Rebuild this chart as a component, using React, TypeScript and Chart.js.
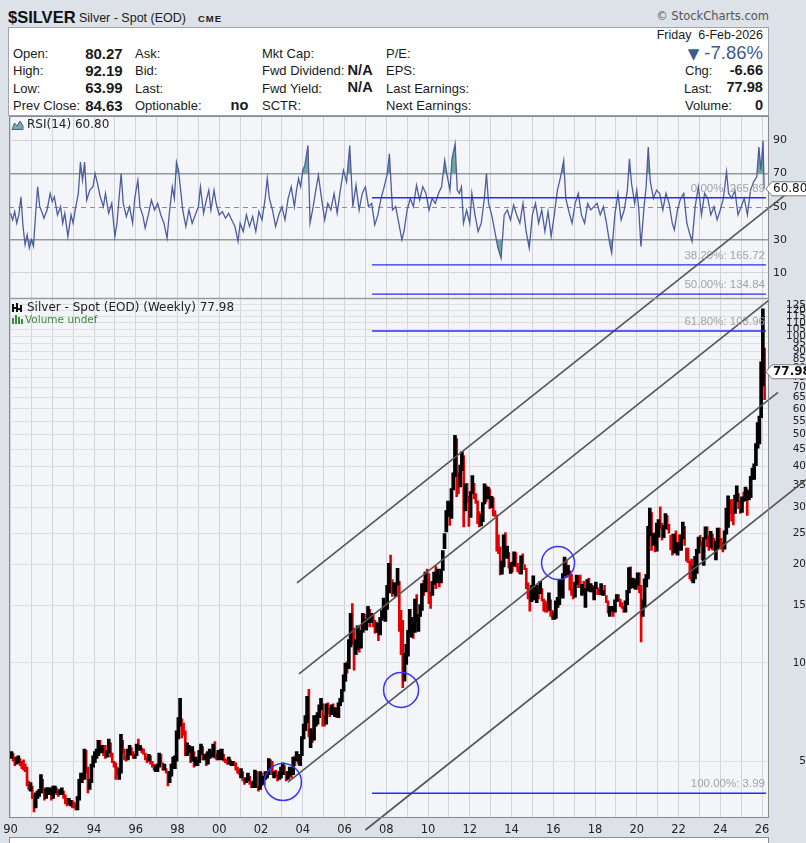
import React, { useEffect, useRef } from 'react';
import { Chart, registerables } from 'chart.js';

Chart.register(...registerables);

// ---------------- data ----------------
const firstYear = 1990; // monthly bars start Jan 1990

const priceClose = [
  5.27, 5.08, 4.95, 5.05, 5.10, 4.93, 4.85, 4.80, 4.75, 4.28, 4.20, 4.20, // 1990
  3.90, 3.65, 3.95, 3.95, 4.05, 4.35, 4.05, 3.90, 4.05, 4.05, 4.05, 3.90, // 1991
  4.10, 4.10, 4.00, 3.95, 4.05, 4.05, 3.90, 3.80, 3.75, 3.75, 3.75, 3.70, // 1992
  3.65, 3.60, 3.85, 4.30, 4.50, 4.40, 5.20, 4.75, 4.15, 4.30, 4.85, 5.10, // 1993
  5.15, 5.30, 5.70, 5.40, 5.45, 5.30, 5.20, 5.30, 5.70, 5.20, 5.00, 4.90, // 1994
  4.70, 4.65, 4.65, 5.80, 5.45, 5.15, 5.10, 5.35, 5.40, 5.30, 5.15, 5.20, // 1995
  5.55, 5.50, 5.50, 5.35, 5.30, 5.10, 5.05, 5.15, 4.95, 4.85, 4.80, 4.80, // 1996
  4.85, 5.20, 4.95, 4.75, 4.75, 4.65, 4.35, 4.50, 4.80, 4.95, 5.00, 6.00, // 1997
  6.45, 6.70, 6.30, 6.10, 5.40, 5.55, 5.55, 5.00, 5.45, 4.95, 5.00, 5.00, // 1998
  5.30, 5.55, 5.10, 5.20, 5.00, 5.25, 5.35, 5.25, 5.60, 5.20, 5.10, 5.35, // 1999
  5.20, 5.20, 5.05, 5.00, 4.95, 5.00, 4.90, 4.95, 4.90, 4.75, 4.70, 4.60, // 2000
  4.60, 4.40, 4.35, 4.40, 4.45, 4.30, 4.20, 4.20, 4.65, 4.20, 4.15, 4.60, // 2001
  4.25, 4.40, 4.55, 4.55, 4.95, 4.85, 4.60, 4.60, 4.55, 4.40, 4.60, 4.75, // 2002
  4.80, 4.60, 4.40, 4.50, 4.75, 4.55, 5.10, 5.05, 5.15, 5.05, 5.25, 5.95, // 2003
  6.20, 6.70, 7.90, 6.00, 6.10, 5.85, 6.50, 6.80, 7.00, 7.25, 7.50, 6.80, // 2004
  6.55, 7.40, 7.15, 6.95, 7.40, 7.10, 7.15, 6.85, 7.50, 7.70, 8.20, 8.85, // 2005
  9.80, 9.60, 11.50, 13.50, 12.40, 10.90, 11.30, 12.60, 11.55, 12.40, 13.90, 12.90, // 2006
  13.40, 14.20, 13.40, 13.40, 13.20, 12.40, 12.90, 12.30, 13.80, 14.40, 14.50, 14.76, // 2007
  16.80, 19.80, 17.30, 16.40, 16.90, 17.40, 17.70, 13.60, 12.90, 9.80, 10.20, 11.30, // 2008
  12.50, 13.00, 13.10, 12.50, 15.60, 13.60, 13.90, 14.90, 16.60, 16.30, 18.50, 16.90, // 2009
  16.20, 16.10, 17.50, 18.60, 18.40, 18.70, 18.00, 19.30, 21.80, 24.60, 28.30, 30.60, // 2010
  27.90, 33.80, 37.80, 48.60, 38.30, 34.80, 40.00, 41.60, 30.40, 34.50, 32.80, 28.20, // 2011
  33.10, 35.60, 32.50, 31.30, 28.30, 27.40, 27.90, 30.70, 34.60, 32.20, 33.70, 30.00, // 2012
  31.70, 28.40, 28.30, 24.30, 22.30, 19.80, 19.80, 24.10, 21.70, 21.90, 19.50, 19.50, // 2013
  19.30, 21.20, 19.70, 19.10, 19.00, 21.00, 20.40, 19.40, 17.00, 16.20, 15.50, 15.60, // 2014
  17.10, 16.60, 16.70, 16.20, 16.80, 15.60, 14.70, 14.60, 14.50, 15.50, 14.10, 13.80, // 2015
  14.10, 15.00, 15.40, 17.70, 16.10, 18.50, 20.20, 18.60, 19.20, 17.60, 16.50, 16.00, // 2016
  17.50, 18.30, 18.20, 17.20, 17.30, 16.60, 16.70, 17.40, 16.70, 16.70, 16.50, 16.90, // 2017
  17.30, 16.40, 16.30, 16.30, 16.40, 16.30, 15.50, 14.50, 14.60, 14.70, 14.30, 15.50, // 2018
  16.10, 15.70, 15.10, 14.90, 14.60, 15.30, 16.40, 18.30, 17.00, 18.10, 17.00, 17.90, // 2019
  18.00, 16.50, 14.00, 15.00, 17.90, 18.50, 24.40, 28.00, 23.60, 23.90, 22.60, 26.40, // 2020
  26.90, 26.70, 24.40, 26.00, 27.90, 26.10, 25.50, 24.00, 22.10, 24.00, 22.90, 23.30, // 2021
  22.40, 24.40, 25.10, 23.00, 21.70, 20.30, 20.20, 17.80, 19.00, 19.10, 21.50, 24.00, // 2022
  23.60, 20.80, 24.10, 25.00, 23.50, 22.80, 24.80, 24.60, 22.30, 22.90, 25.30, 24.00, // 2023
  23.00, 22.70, 24.90, 26.50, 31.30, 29.10, 29.00, 28.90, 31.10, 32.70, 30.30, 28.90, // 2024
  31.30, 31.20, 34.10, 32.10, 33.00, 36.10, 36.70, 39.70, 46.60, 48.70, 56.30, 71.20, // 2025
  84.63, 77.98, // 2026
];

const priceHigh = [
  5.35, 5.30, 5.15, 5.15, 5.20, 5.10, 5.00, 5.05, 4.90, 4.80, 4.35, 4.30,
  4.20, 3.95, 4.00, 4.05, 4.10, 4.55, 4.40, 4.10, 4.15, 4.15, 4.15, 4.10,
  4.20, 4.20, 4.15, 4.05, 4.10, 4.15, 4.05, 3.95, 3.85, 3.85, 3.80, 3.80,
  3.75, 3.70, 3.90, 4.40, 4.60, 4.60, 5.45, 5.40, 4.80, 4.40, 4.90, 5.20,
  5.35, 5.45, 5.80, 5.80, 5.60, 5.60, 5.60, 5.40, 5.85, 5.70, 5.30, 5.00,
  4.95, 4.80, 4.75, 6.05, 5.80, 5.45, 5.20, 5.45, 5.60, 5.50, 5.35, 5.25,
  5.65, 5.85, 5.60, 5.50, 5.45, 5.30, 5.15, 5.25, 5.20, 5.00, 4.90, 4.85,
  4.90, 5.30, 5.25, 4.95, 4.90, 4.75, 4.65, 4.65, 4.90, 5.15, 5.20, 6.20,
  6.80, 7.80, 6.75, 6.55, 6.20, 5.70, 5.60, 5.55, 5.55, 5.35, 5.15, 5.05,
  5.40, 5.65, 5.55, 5.25, 5.30, 5.35, 5.45, 5.35, 5.65, 5.75, 5.30, 5.40,
  5.45, 5.45, 5.25, 5.10, 5.05, 5.15, 5.05, 5.00, 5.00, 4.95, 4.80, 4.70,
  4.75, 4.65, 4.45, 4.45, 4.60, 4.50, 4.30, 4.35, 4.70, 4.65, 4.20, 4.65,
  4.60, 4.50, 4.65, 4.65, 5.10, 5.05, 5.00, 4.65, 4.70, 4.55, 4.65, 4.80,
  4.95, 4.85, 4.65, 4.65, 4.80, 4.75, 5.15, 5.20, 5.35, 5.20, 5.25, 5.95,
  6.50, 6.90, 7.90, 8.30, 6.30, 6.20, 6.90, 6.90, 7.05, 7.45, 7.80, 7.50,
  6.90, 7.50, 7.55, 7.30, 7.45, 7.50, 7.30, 7.25, 7.55, 7.80, 8.30, 9.20,
  10.00, 10.10, 11.80, 14.20, 15.20, 12.80, 11.80, 13.00, 13.00, 12.60, 14.20, 14.10,
  13.60, 14.90, 14.60, 14.20, 14.00, 13.50, 13.30, 13.10, 13.80, 14.50, 15.80, 15.00,
  17.30, 20.20, 21.40, 18.00, 17.60, 17.60, 19.50, 17.80, 14.50, 13.50, 10.70, 11.40,
  12.60, 14.60, 13.80, 13.20, 15.70, 16.20, 14.10, 15.10, 17.50, 17.90, 19.00, 19.40,
  18.80, 16.50, 17.80, 19.00, 19.80, 19.40, 18.60, 19.40, 22.10, 24.90, 29.30, 31.30,
  31.10, 34.20, 38.20, 49.80, 48.70, 38.20, 40.40, 44.30, 43.20, 35.40, 35.50, 32.40,
  33.50, 37.50, 35.50, 33.00, 31.40, 29.10, 28.50, 31.00, 35.40, 34.90, 34.60, 34.10,
  32.40, 32.10, 29.30, 28.40, 24.70, 22.70, 20.50, 24.70, 25.10, 22.80, 21.80, 20.30,
  20.40, 21.90, 21.80, 20.20, 19.70, 21.30, 21.60, 20.00, 19.50, 17.60, 16.80, 17.30,
  18.50, 17.20, 17.30, 16.80, 17.80, 16.90, 15.70, 15.50, 15.20, 16.40, 15.60, 14.50,
  14.30, 15.50, 15.90, 17.90, 17.80, 18.80, 21.10, 20.70, 19.90, 19.20, 18.70, 17.00,
  17.70, 18.60, 18.50, 18.60, 17.40, 17.80, 16.90, 18.00, 18.20, 17.50, 17.30, 17.10,
  17.70, 17.00, 16.80, 17.50, 16.70, 17.30, 16.10, 15.50, 14.90, 14.90, 14.80, 15.60,
  16.20, 16.20, 15.70, 15.30, 14.90, 15.50, 16.70, 19.60, 19.70, 18.20, 17.90, 18.10,
  18.90, 18.90, 17.30, 15.60, 18.10, 18.70, 26.20, 29.80, 28.90, 25.00, 25.00, 26.80,
  27.50, 30.10, 26.80, 26.40, 28.70, 28.30, 26.60, 24.60, 24.80, 24.80, 25.40, 23.40,
  24.70, 24.70, 27.00, 26.20, 22.50, 22.50, 20.50, 20.80, 19.80, 21.20, 22.30, 24.30,
  24.60, 23.60, 24.20, 26.10, 26.10, 24.60, 25.30, 24.80, 24.10, 23.60, 25.90, 25.90,
  24.10, 23.40, 25.40, 29.80, 32.50, 31.30, 31.70, 29.70, 32.70, 34.90, 33.00, 31.40,
  32.30, 33.40, 34.60, 34.10, 33.70, 37.30, 39.50, 40.70, 47.00, 54.50, 57.00, 83.60,
  121.60, 92.19,
];

const priceLow = [
  5.10, 5.00, 4.85, 4.90, 4.95, 4.85, 4.75, 4.70, 4.65, 4.20, 4.10, 4.05,
  3.85, 3.50, 3.60, 3.85, 3.90, 4.00, 4.00, 3.80, 3.85, 3.95, 3.95, 3.80,
  3.85, 4.00, 3.95, 3.90, 3.95, 3.95, 3.85, 3.70, 3.65, 3.70, 3.65, 3.60,
  3.60, 3.55, 3.55, 3.80, 4.30, 4.30, 4.40, 4.60, 4.00, 4.10, 4.30, 4.80,
  4.95, 5.10, 5.20, 5.30, 5.30, 5.20, 5.10, 5.15, 5.30, 5.15, 4.95, 4.80,
  4.40, 4.55, 4.40, 4.60, 5.30, 5.05, 5.00, 5.05, 5.25, 5.20, 5.10, 5.10,
  5.20, 5.45, 5.40, 5.30, 5.25, 5.05, 4.95, 5.00, 4.90, 4.80, 4.70, 4.65,
  4.65, 4.80, 4.90, 4.70, 4.70, 4.60, 4.20, 4.30, 4.50, 4.75, 4.75, 5.00,
  5.85, 6.40, 5.90, 6.00, 5.20, 5.20, 5.30, 4.95, 5.00, 4.80, 4.85, 4.85,
  4.95, 5.25, 5.05, 5.05, 4.85, 4.90, 5.10, 5.15, 5.15, 5.10, 5.05, 5.05,
  5.10, 5.05, 5.00, 4.95, 4.90, 4.90, 4.85, 4.85, 4.85, 4.70, 4.60, 4.55,
  4.45, 4.35, 4.25, 4.30, 4.35, 4.25, 4.15, 4.15, 4.15, 4.15, 4.05, 4.10,
  4.20, 4.25, 4.40, 4.45, 4.55, 4.80, 4.55, 4.45, 4.50, 4.35, 4.40, 4.45,
  4.55, 4.55, 4.35, 4.40, 4.50, 4.45, 4.55, 4.85, 5.00, 4.90, 4.85, 5.20,
  5.85, 6.20, 6.55, 5.95, 5.50, 5.70, 5.80, 6.40, 6.50, 6.80, 7.20, 6.40,
  6.40, 6.50, 7.00, 6.85, 6.95, 7.00, 6.85, 6.80, 6.80, 7.40, 7.60, 8.20,
  8.80, 9.30, 9.60, 11.20, 11.40, 9.50, 10.60, 11.00, 10.80, 11.10, 12.40, 12.70,
  12.60, 13.30, 12.90, 13.30, 12.90, 12.35, 12.40, 11.70, 12.20, 13.50, 13.80, 13.40,
  14.60, 16.40, 16.40, 16.00, 16.30, 16.00, 17.30, 12.50, 10.60, 8.40, 8.80, 9.90,
  10.50, 12.30, 12.00, 11.90, 12.40, 13.30, 12.50, 13.90, 14.50, 16.10, 16.50, 16.60,
  15.20, 14.70, 16.10, 17.40, 16.90, 17.60, 17.10, 17.60, 19.20, 22.40, 25.20, 28.10,
  26.40, 27.70, 33.90, 37.20, 32.30, 33.00, 34.60, 38.80, 26.10, 29.20, 31.10, 26.20,
  27.90, 33.00, 31.80, 30.80, 26.70, 26.10, 26.30, 27.10, 30.70, 31.20, 31.80, 29.70,
  29.90, 28.20, 28.10, 22.00, 21.60, 18.60, 18.70, 19.70, 21.10, 20.90, 19.50, 18.80,
  19.00, 19.80, 19.70, 19.00, 18.80, 18.70, 20.10, 19.30, 16.90, 15.70, 14.40, 15.40,
  15.60, 16.20, 15.30, 15.70, 16.30, 15.50, 14.40, 14.30, 14.30, 14.50, 13.90, 13.60,
  13.60, 13.70, 14.80, 15.10, 15.90, 15.80, 18.50, 18.30, 18.60, 16.70, 16.10, 15.70,
  15.90, 17.40, 17.00, 17.00, 16.10, 16.40, 14.80, 16.60, 16.70, 16.50, 16.50, 15.60,
  16.90, 16.20, 16.20, 16.20, 16.10, 16.10, 15.30, 14.20, 13.90, 14.40, 13.90, 14.30,
  15.40, 15.50, 14.90, 14.70, 14.30, 14.30, 15.10, 16.40, 16.90, 17.00, 16.90, 16.80,
  17.30, 16.40, 11.60, 13.90, 14.80, 17.10, 18.10, 24.50, 22.10, 22.90, 21.90, 22.00,
  24.30, 25.80, 23.80, 24.20, 25.80, 25.60, 25.00, 22.20, 21.40, 21.70, 22.50, 21.40,
  22.10, 22.10, 24.00, 22.90, 20.50, 20.30, 18.10, 17.80, 17.60, 18.10, 18.80, 21.70,
  22.80, 20.70, 19.90, 24.00, 22.70, 22.10, 22.50, 22.20, 22.10, 20.70, 22.40, 22.50,
  22.30, 21.90, 22.30, 24.80, 26.00, 28.60, 27.20, 26.50, 28.70, 31.20, 29.70, 28.70,
  28.90, 31.20, 31.40, 28.30, 31.60, 32.10, 36.50, 36.50, 40.20, 45.50, 46.90, 56.40,
  70.50, 63.99,
];

const rsiDates = [
  1990.00, 1990.10, 1990.20, 1990.30, 1990.40, 1990.50, 1990.60, 1990.70, 1990.80, 1990.90,
  1991.00, 1991.10, 1991.20, 1991.30, 1991.40, 1991.50, 1991.60, 1991.75, 1991.90,
  1992.00, 1992.10, 1992.25, 1992.40, 1992.50, 1992.60, 1992.75, 1992.90,
  1993.00, 1993.10, 1993.25, 1993.35, 1993.45, 1993.55, 1993.65, 1993.80, 1993.95,
  1994.05, 1994.15, 1994.30, 1994.45, 1994.55, 1994.70, 1994.85,
  1995.00, 1995.10, 1995.30, 1995.40, 1995.55, 1995.70, 1995.85, 1995.95,
  1996.10, 1996.20, 1996.35, 1996.45, 1996.60, 1996.75, 1996.90,
  1997.05, 1997.20, 1997.35, 1997.50, 1997.60, 1997.75, 1997.85, 1997.95,
  1998.05, 1998.15, 1998.25, 1998.40, 1998.55, 1998.70, 1998.85,
  1999.00, 1999.10, 1999.25, 1999.40, 1999.50, 1999.60, 1999.75, 1999.85,
  2000.00, 2000.15, 2000.30, 2000.45, 2000.60, 2000.75, 2000.90,
  2001.00, 2001.15, 2001.30, 2001.45, 2001.60, 2001.75, 2001.90,
  2002.05, 2002.20, 2002.30, 2002.40, 2002.55, 2002.70, 2002.85,
  2003.00, 2003.15, 2003.30, 2003.45, 2003.60, 2003.70, 2003.80, 2003.90,
  2004.00, 2004.10, 2004.25, 2004.35, 2004.50, 2004.60, 2004.75, 2004.90,
  2005.05, 2005.20, 2005.35, 2005.50, 2005.65, 2005.80, 2005.95,
  2006.10, 2006.25, 2006.40, 2006.55, 2006.70, 2006.85,
  2007.00, 2007.15, 2007.30, 2007.45, 2007.60, 2007.75, 2007.90,
  2008.05, 2008.15, 2008.30, 2008.45, 2008.60, 2008.75, 2008.85,
  2009.00, 2009.15, 2009.30, 2009.45, 2009.60, 2009.75, 2009.90,
  2010.05, 2010.20, 2010.35, 2010.50, 2010.65, 2010.80, 2010.90,
  2011.05, 2011.15, 2011.30, 2011.40, 2011.50, 2011.60, 2011.70, 2011.85,
  2012.00, 2012.10, 2012.25, 2012.40, 2012.55, 2012.70, 2012.80, 2012.90,
  2013.05, 2013.20, 2013.35, 2013.50, 2013.65, 2013.80, 2013.95,
  2014.10, 2014.25, 2014.40, 2014.55, 2014.70, 2014.85,
  2015.00, 2015.15, 2015.30, 2015.45, 2015.60, 2015.75, 2015.90,
  2016.05, 2016.20, 2016.35, 2016.50, 2016.60, 2016.75, 2016.90,
  2017.05, 2017.20, 2017.35, 2017.50, 2017.65, 2017.80, 2017.95,
  2018.10, 2018.25, 2018.40, 2018.55, 2018.70, 2018.80, 2018.95,
  2019.10, 2019.25, 2019.40, 2019.55, 2019.65, 2019.75, 2019.90,
  2020.00, 2020.10, 2020.20, 2020.35, 2020.45, 2020.55, 2020.65, 2020.80, 2020.95,
  2021.10, 2021.25, 2021.40, 2021.55, 2021.70, 2021.80, 2021.95,
  2022.10, 2022.25, 2022.40, 2022.55, 2022.65, 2022.80, 2022.95,
  2023.10, 2023.25, 2023.40, 2023.55, 2023.70, 2023.85,
  2024.00, 2024.15, 2024.30, 2024.40, 2024.55, 2024.70, 2024.85,
  2025.00, 2025.15, 2025.30, 2025.45, 2025.60, 2025.75, 2025.85, 2025.95,
  2026.05, 2026.10,
];

const rsiValues = [
  46, 42, 47, 40, 45, 56, 38, 27, 33, 25,
  30, 26, 45, 62, 50, 47, 43, 48, 58,
  53, 56, 45, 50, 40, 46, 32, 45,
  40, 48, 58, 77, 66, 77, 54, 60, 62,
  70, 65, 56, 50, 58, 46, 52,
  32, 40, 70, 52, 44, 50, 40, 55,
  66, 50, 44, 37, 45, 54, 48,
  52, 45, 40, 31, 45, 62, 55, 77,
  72, 60, 48, 38, 48, 40, 45,
  50, 62, 46, 55, 60, 48, 60, 52,
  45, 47, 43, 46, 42, 38, 29,
  40, 35, 45, 38, 44, 35, 47,
  42, 55, 67, 55, 48, 38, 45,
  50, 42, 55, 62, 50, 60, 67, 62,
  72, 75, 87, 40, 50, 58, 69, 55,
  42, 52, 48, 58, 46, 60, 72,
  65, 87, 50, 63, 48, 58,
  62, 50, 52, 39, 45, 55, 62,
  70, 82, 48, 50, 40, 30, 35,
  48, 55, 50, 63, 54, 62, 58,
  48, 55, 52, 58, 62, 78, 70,
  60, 79, 88, 60, 58, 62, 40, 48,
  40, 58, 45, 35, 40, 55, 70, 52,
  45, 35, 25, 19, 45, 48, 42,
  51, 45, 40, 52, 35, 25,
  45, 52, 40, 48, 35, 47, 32,
  45, 60, 68, 78, 55, 47, 40,
  52, 58, 45, 40, 52, 48, 50,
  52, 45, 50, 40, 28, 22, 45,
  58, 42, 48, 60, 79, 64, 52,
  60, 48, 26, 50, 62, 86, 65, 55, 60,
  58, 48, 58, 52, 40, 36, 48,
  55, 58, 40, 33, 29, 50, 62,
  45, 58, 55, 45, 50, 42,
  48, 55, 71, 58, 55, 60, 45,
  50, 55, 45, 60, 65, 68, 86, 72,
  90, 60.8,
];

const yearTicks = Array.from({ length: 37 }, (_, i) => 1990 + i);
const rsiTicks = [10, 30, 50, 70, 90];
const priceTicks = [5, 10, 15, 20, 25, 30, 35, 40, 45, 50, 55, 60, 65, 70, 75, 80, 85, 90, 95, 100, 105, 110, 115, 120, 125];

const fibLevels = [265.89, 165.72, 134.84, 103.96, 3.99];
const fibLabels = ['0.00%: 265.89', '38.20%: 165.72', '50.00%: 134.84', '61.80%: 103.96', '100.00%: 3.99'];
const fibStartYear = 2007.32;
const fibEndYear = 2026.19;

const channelStartYears = [2003.725, 2003.82, 2003.293, 2007.0];
const channelStartPrices = [17.58, 9.254, 4.319, 3.08];
const channelEndYears = [2027.582, 2026.335, 2026.766, 2028.126];
const channelEndPrices = [286.8, 129.1, 67.4, 36.5];

const circleYears = [2003.05, 2008.71, 2016.23];
const circlePrices = [4.32, 8.27, 20.24];
const circleRadii = [18.5, 17.5, 16.5];

// ---------------- styling ----------------
const BG = '#dde1e8';
const PLOT_BG = '#f4f5f9';
const GRID = '#d1d4db';
const UI_FONT = '"Liberation Sans", Arial, sans-serif';
const CH_FONT = '"DejaVu Sans", Verdana, sans-serif';

const barPoints = priceClose.map((c, i) => ({
  x: firstYear + (i + 0.5) / 12,
  y: [priceLow[i], priceHigh[i]],
  up: i === 0 ? true : c >= priceClose[i - 1],
}));
const upBars = barPoints.filter((p) => p.up).map((p) => ({ x: p.x, y: p.y }));
const downBars = barPoints.filter((p) => !p.up).map((p) => ({ x: p.x, y: p.y }));
const rsiData = rsiDates.map((d, i) => ({ x: d, y: rsiValues[i] }));
const TEAL = 'rgba(96,160,146,0.9)';

function valueBox(ctx: CanvasRenderingContext2D, x: number, y: number, text: string, bold: boolean) {
  ctx.save();
  ctx.beginPath();
  ctx.moveTo(x - 3, y);
  ctx.lineTo(x + 3, y - 7);
  ctx.lineTo(808, y - 7);
  ctx.lineTo(808, y + 7);
  ctx.lineTo(x + 3, y + 7);
  ctx.closePath();
  ctx.fillStyle = '#ffffff';
  ctx.fill();
  ctx.strokeStyle = '#7a7a7a';
  ctx.lineWidth = 1;
  ctx.stroke();
  ctx.fillStyle = '#111';
  ctx.font = `${bold ? 'bold ' : ''}12px ${CH_FONT}`;
  ctx.textAlign = 'left';
  ctx.textBaseline = 'middle';
  ctx.fillText(text, x + 4, y + 0.5);
  ctx.restore();
}

const overlayPlugin = {
  id: 'overlay',
  beforeDraw(chart: any) {
    const { ctx, chartArea: a } = chart;
    ctx.save();
    ctx.fillStyle = PLOT_BG;
    ctx.fillRect(a.left, a.top, a.right - a.left, a.bottom - a.top);
    ctx.restore();
  },
  beforeDatasetsDraw(chart: any) {
    const { ctx, chartArea: a } = chart;
    const yR = chart.scales.yR;
    const y = Math.round(yR.getPixelForValue(50)) + 0.5;
    ctx.save();
    ctx.strokeStyle = '#8c8c8c';
    ctx.lineWidth = 1;
    ctx.setLineDash([5, 4]);
    ctx.beginPath();
    ctx.moveTo(a.left, y);
    ctx.lineTo(a.right, y);
    ctx.stroke();
    ctx.restore();
  },
  afterDraw(chart: any) {
    const { ctx, chartArea: a } = chart;
    const yR = chart.scales.yR;
    const yP = chart.scales.yP;
    const x = chart.scales.x;
    ctx.save();
    ctx.strokeStyle = '#8a8a8a';
    ctx.lineWidth = 1;
    ctx.strokeRect(a.left + 0.5, a.top + 0.5, a.right - a.left - 1, a.bottom - a.top - 1);
    ctx.strokeStyle = '#9a9a9a';
    ctx.lineWidth = 1.5;
    ctx.beginPath();
    ctx.moveTo(a.left, yP.top);
    ctx.lineTo(a.right, yP.top);
    ctx.stroke();

    // fib labels
    ctx.fillStyle = '#a3a3a3';
    ctx.font = `11.5px ${UI_FONT}`;
    ctx.textAlign = 'right';
    ctx.textBaseline = 'middle';
    const fx = x.getPixelForValue(fibEndYear) - 1;
    fibLevels.forEach((lv, i) => {
      ctx.fillText(fibLabels[i], fx, yP.getPixelForValue(lv) - 9);
    });

    // panel titles
    ctx.textAlign = 'left';
    ctx.fillStyle = '#222';
    ctx.font = `12px ${CH_FONT}`;
    const rsiLast = rsiValues[rsiValues.length - 1];
    const rsiTitleY = yR.top + 9;
    ctx.fillText(`RSI(14) ${rsiLast.toFixed(2)}`, 27, rsiTitleY);
    ctx.beginPath();
    ctx.moveTo(12, rsiTitleY + 4.5);
    ctx.lineTo(14.5, rsiTitleY - 2);
    ctx.lineTo(17, rsiTitleY + 1);
    ctx.lineTo(20, rsiTitleY - 4);
    ctx.lineTo(23, rsiTitleY + 1);
    ctx.lineTo(23, rsiTitleY + 4.5);
    ctx.closePath();
    ctx.fillStyle = '#72ad9f';
    ctx.fill();
    ctx.strokeStyle = '#4d5d94';
    ctx.lineWidth = 1;
    ctx.stroke();

    const lastClose = priceClose[priceClose.length - 1];
    const pTitleY = yP.top + 9.5;
    ctx.fillStyle = '#222';
    ctx.fillText(`Silver - Spot (EOD) (Weekly) ${lastClose.toFixed(2)}`, 27, pTitleY);
    ctx.fillStyle = '#111';
    ctx.fillRect(12, pTitleY - 4, 2, 8);
    ctx.fillRect(16, pTitleY - 5, 2, 9);
    ctx.fillRect(20, pTitleY - 3, 2, 7);
    ctx.fillRect(14, pTitleY - 1, 2, 2);
    ctx.fillRect(18, pTitleY, 2, 2);
    const vY = yP.top + 21.5;
    ctx.fillStyle = '#3f8a3c';
    ctx.font = `10.5px ${CH_FONT}`;
    ctx.fillText('Volume undef', 25, vY);
    ctx.fillRect(12, vY - 2, 2, 6);
    ctx.fillRect(15, vY - 5, 2, 9);
    ctx.fillRect(18, vY - 3, 2, 7);
    ctx.fillRect(21, vY - 1, 2, 5);

    valueBox(ctx, a.right, yR.getPixelForValue(rsiLast), rsiLast.toFixed(2), false);
    valueBox(ctx, a.right, yP.getPixelForValue(lastClose), lastClose.toFixed(2), true);
    ctx.restore();
  },
};

function Txt(props: any) {
  const { x, right, y, size, bold, color, family, children } = props;
  const style: any = {
    position: 'absolute',
    top: y - 0.8465 * size,
    fontSize: size,
    lineHeight: `${size}px`,
    fontWeight: bold ? 700 : 400,
    color: color || '#1b1b1b',
    fontFamily: family || UI_FONT,
    whiteSpace: 'pre',
  };
  if (right !== undefined) style.right = 806 - right;
  else style.left = x;
  return <div style={style}>{children}</div>;
}

const zeroPad = (s: any) => {
  s.paddingLeft = 0;
  s.paddingRight = 0;
  s.paddingTop = 0;
  s.paddingBottom = 0;
};

export default function App() {
  const ref = useRef<HTMLCanvasElement>(null);

  useEffect(() => {
    document.body.style.margin = '0';
    const canvas = ref.current;
    if (!canvas) return;
    const datasets: any[] = [
      {
        type: 'line',
        label: 'RSI',
        data: rsiData,
        xAxisID: 'x',
        yAxisID: 'yR',
        borderColor: '#4e5c9c',
        borderWidth: 1.3,
        pointRadius: 0,
        tension: 0,
        fill: { target: { value: 70 }, above: TEAL, below: 'rgba(0,0,0,0)' },
        order: 10,
      },
      {
        type: 'line',
        label: 'RSI low fill',
        data: rsiData,
        xAxisID: 'x',
        yAxisID: 'yR',
        borderWidth: 0,
        borderColor: 'rgba(0,0,0,0)',
        pointRadius: 0,
        fill: { target: { value: 30 }, above: 'rgba(0,0,0,0)', below: TEAL },
        order: 11,
      },
      {
        type: 'bar',
        label: 'down',
        data: downBars,
        xAxisID: 'x',
        yAxisID: 'yP',
        backgroundColor: '#e30000',
        borderWidth: 0,
        barThickness: 2,
        grouped: false,
        order: 8,
      },
      {
        type: 'bar',
        label: 'up',
        data: upBars,
        xAxisID: 'x',
        yAxisID: 'yP',
        backgroundColor: '#000000',
        borderWidth: 0,
        barThickness: 3,
        grouped: false,
        order: 7,
      },
      ...channelStartYears.map((sy, i) => ({
        type: 'line',
        label: `channel${i}`,
        data: [
          { x: sy, y: channelStartPrices[i] },
          { x: channelEndYears[i], y: channelEndPrices[i] },
        ],
        xAxisID: 'x',
        yAxisID: 'yP',
        borderColor: '#555555',
        borderWidth: 1.6,
        pointRadius: 0,
        fill: false,
        clip: false,
        order: 5,
      })),
      ...fibLevels.map((lv, i) => ({
        type: 'line',
        label: `fib${i}`,
        data: [
          { x: fibStartYear, y: lv },
          { x: fibEndYear, y: lv },
        ],
        xAxisID: 'x',
        yAxisID: 'yP',
        borderColor: '#2a2aff',
        borderWidth: 1.4,
        pointRadius: 0,
        fill: false,
        clip: false,
        order: 4,
      })),
      {
        type: 'line',
        label: 'circles',
        data: circleYears.map((cy, i) => ({ x: cy, y: circlePrices[i] })),
        xAxisID: 'x',
        yAxisID: 'yP',
        showLine: false,
        pointRadius: circleRadii,
        pointBorderColor: '#3535ff',
        pointBackgroundColor: 'rgba(0,0,0,0)',
        pointBorderWidth: 1.5,
        clip: false,
        order: 3,
      },
    ];

    const chart = new Chart(canvas, {
      type: 'line',
      data: { datasets },
      options: {
        responsive: false,
        animation: false,
        devicePixelRatio: 1,
        events: [],
        layout: { autoPadding: false, padding: { top: 116, left: 9, right: 0, bottom: 0 } },
        plugins: { legend: { display: false }, tooltip: { enabled: false } },
        scales: {
          x: {
            type: 'linear',
            min: 1989.928,
            max: 2026.335,
            bounds: 'data',
            offset: false,
            grid: { color: GRID, lineWidth: 1, drawTicks: false, offset: false },
            border: { display: false },
            ticks: {
              autoSkip: false,
              maxRotation: 0,
              padding: 5,
              color: '#222',
              font: { family: CH_FONT, size: 11.5 },
              callback: (v: any) => {
                const yr = Math.round(Number(v));
                return yr % 2 === 0 ? String(yr % 100).padStart(2, '0') : '';
              },
            },
            afterBuildTicks: (s: any) => {
              s.ticks = yearTicks.map((v) => ({ value: v }));
            },
            afterFit: (s: any) => {
              s.height = 25;
              zeroPad(s);
            },
          },
          yR: {
            type: 'linear',
            position: 'right',
            stack: 'panels',
            stackWeight: 182.5,
            weight: 0,
            min: -5.5,
            max: 104.8,
            bounds: 'data',
            offset: false,
            grid: {
              drawTicks: false,
              color: (c: any) => {
                const v = c.tick && c.tick.value;
                if (v === 70 || v === 30) return '#9a9a9a';
                if (v === 50) return 'rgba(0,0,0,0)';
                return GRID;
              },
              lineWidth: (c: any) => {
                const v = c.tick && c.tick.value;
                return v === 70 || v === 30 ? 1.5 : 1;
              },
            },
            border: { display: false },
            ticks: {
              autoSkip: false,
              padding: 4,
              crossAlign: 'near',
              color: '#222',
              font: { family: CH_FONT, size: 11 },
              callback: (v: any) => String(v),
            },
            afterBuildTicks: (s: any) => {
              s.ticks = rsiTicks.map((v) => ({ value: v }));
            },
            afterFit: (s: any) => {
              s.width = 37;
              zeroPad(s);
            },
          },
          yP: {
            type: 'logarithmic',
            position: 'right',
            stack: 'panels',
            stackWeight: 519.5,
            weight: 1,
            min: 3.352,
            max: 130.7,
            bounds: 'data',
            beginAtZero: false,
            offset: false,
            grid: { drawTicks: false, color: '#dcdfe5', lineWidth: 1 },
            border: { display: false },
            ticks: {
              autoSkip: false,
              padding: 7,
              crossAlign: 'far',
              color: '#222',
              font: { family: CH_FONT, size: 10.5 },
              callback: (v: any) => String(v),
            },
            afterBuildTicks: (s: any) => {
              s.ticks = priceTicks.map((v) => ({ value: v }));
            },
            afterFit: (s: any) => {
              s.width = 37;
              zeroPad(s);
            },
          },
        },
      } as any,
      plugins: [overlayPlugin],
    } as any);
    return () => chart.destroy();
  }, []);

  const r1 = 58.5, r2 = 75.3, r3 = 92.8, r4 = 110.2;
  const L = 13, V = 14.6;

  return (
    <div style={{ position: 'relative', width: 806, height: 843, background: BG, overflow: 'hidden' }}>
      <Txt x={8} y={22.8} size={16.5} bold color="#111">$SILVER</Txt>
      <Txt x={79} y={22.5} size={12.5}>Silver - Spot (EOD)</Txt>
      <Txt x={198} y={21.8} size={9.5} bold color="#222"><span style={{ letterSpacing: 1 }}>CME</span></Txt>
      <Txt right={769} y={21} size={11.5} color="#555" family={CH_FONT}>© StockCharts.com</Txt>

      <div style={{ position: 'absolute', left: 8, top: 27, width: 761, height: 89, background: '#ffffff', border: '1px solid #9ea4ae', boxSizing: 'border-box' }} />

      <Txt right={763} y={39.5} size={12.5}>Friday  6-Feb-2026</Txt>
      <Txt right={763} y={59.5} size={18.5} color="#3d5a90"><span style={{ fontSize: 15, fontFamily: CH_FONT }}>▼</span> -7.86%</Txt>

      <Txt x={13} y={r1} size={L}>Open:</Txt>
      <Txt x={13} y={r2} size={L}>High:</Txt>
      <Txt x={13} y={r3} size={L}>Low:</Txt>
      <Txt x={13} y={r4} size={L}>Prev Close:</Txt>
      <Txt right={122.7} y={r1} size={15} bold>80.27</Txt>
      <Txt right={122.7} y={r2} size={15} bold>92.19</Txt>
      <Txt right={122.7} y={r3} size={15} bold>63.99</Txt>
      <Txt right={122.7} y={r4} size={15} bold>84.63</Txt>

      <Txt x={135} y={r1} size={L}>Ask:</Txt>
      <Txt x={135} y={r2} size={L}>Bid:</Txt>
      <Txt x={135} y={r3} size={L}>Last:</Txt>
      <Txt x={135} y={r4} size={L}>Optionable:</Txt>
      <Txt right={248.3} y={r4} size={V} bold>no</Txt>

      <Txt x={262} y={r1} size={L}>Mkt Cap:</Txt>
      <Txt x={262} y={r2} size={L}>Fwd Dividend:</Txt>
      <Txt x={262} y={r3} size={L}>Fwd Yield:</Txt>
      <Txt x={262} y={r4} size={L}>SCTR:</Txt>
      <Txt right={372.7} y={r2} size={V} bold>N/A</Txt>
      <Txt right={372.7} y={r3} size={V} bold>N/A</Txt>

      <Txt x={386} y={r1} size={L}>P/E:</Txt>
      <Txt x={386} y={r2} size={L}>EPS:</Txt>
      <Txt x={386} y={r3} size={L}>Last Earnings:</Txt>
      <Txt x={386} y={r4} size={L}>Next Earnings:</Txt>

      <Txt x={685} y={r2} size={L}>Chg:</Txt>
      <Txt x={684} y={r3} size={L}>Last:</Txt>
      <Txt x={685} y={r4} size={L}>Volume:</Txt>
      <Txt right={763} y={r2} size={V} bold>-6.66</Txt>
      <Txt right={763} y={r3} size={V} bold>77.98</Txt>
      <Txt right={763} y={r4} size={V} bold>0</Txt>

      <div style={{ position: 'absolute', left: 9, top: 837, width: 760, height: 20, background: '#ffffff', borderTop: '1px solid #8c8c8c', borderLeft: '1px solid #8c8c8c', borderRight: '1px solid #8c8c8c', boxSizing: 'border-box' }} />

      <canvas ref={ref} width={806} height={843} style={{ position: 'absolute', left: 0, top: 0 }} />
    </div>
  );
}
